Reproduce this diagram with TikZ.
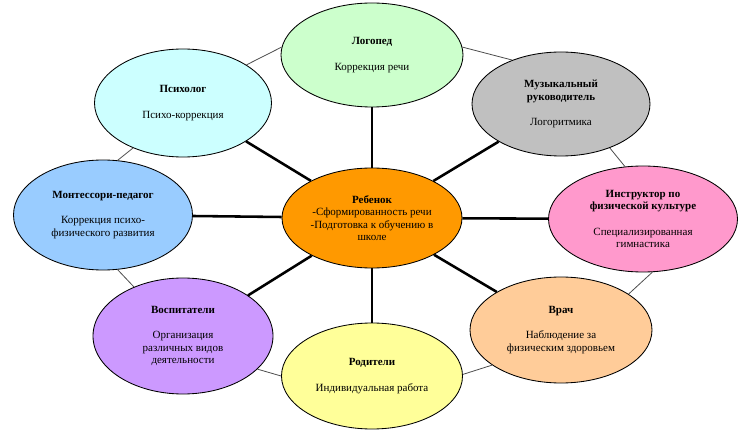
\documentclass[tikz,border=0pt]{standalone}
\usepackage{fontspec}
\setmainfont{Liberation Serif}
\usetikzlibrary{shapes.geometric}
\definecolor{logocol}{HTML}{CCFFCC}
\definecolor{muzcol}{HTML}{C0C0C0}
\definecolor{psycol}{HTML}{CCFFFF}
\definecolor{montcol}{HTML}{99CCFF}
\definecolor{fizcol}{HTML}{FF99CC}
\definecolor{vrachcol}{HTML}{FFCC99}
\definecolor{rodcol}{HTML}{FFFF99}
\definecolor{vospcol}{HTML}{CC99FF}
\definecolor{rebcol}{HTML}{FF9900}

\begin{document}
\begin{tikzpicture}[x=1pt, y=-1pt,
    bubble/.style={ellipse, draw=black, line width=.3mm, inner sep=0pt, align=center,
      font=\fontsize{11}{12.5}\selectfont},
    spoke/.style={line width=.9mm},
    ring/.style={line width=.28mm, black!70}]
	\useasboundingbox (0,0) rectangle (739,438);
	\node[bubble, fill=rebcol, minimum width=180pt, minimum height=100pt] (rebenok) at (372,218)
	  {\textbf{Ребенок}\\-Сформированность речи\\-Подготовка к обучению в\\школе};
	\node[bubble, fill=logocol, minimum width=182pt, minimum height=104pt] (logoped) at (372,55)
	  {\textbf{Логопед}\\[14pt]Коррекция речи};
	\node[bubble, fill=muzcol, minimum width=178pt, minimum height=104pt] (muzruk) at (561,104)
	  {\textbf{Музыкальный}\\\textbf{руководитель}\\[13pt]Логоритмика};
	\node[bubble, fill=psycol, minimum width=177pt, minimum height=108pt] (psiholog) at (183,103)
	  {\textbf{Психолог}\\[14pt]Психо-коррекция};
	\node[bubble, fill=montcol, minimum width=179pt, minimum height=110pt] (montessori) at (103,215)
	  {\textbf{Монтессори-педагог}\\[13pt]Коррекция психо-\\физического развития};
	\node[bubble, fill=fizcol, minimum width=189pt, minimum height=106pt] (instruktor) at (643,219)
	  {\textbf{Инструктор по}\\\textbf{физической культуре}\\[13pt]Специализированная\\гимнастика};
	\node[bubble, fill=vospcol, minimum width=180pt, minimum height=116pt] (vospitateli) at (183,336)
	  {\textbf{Воспитатели}\\[13pt]Организация\\различных видов\\деятельности};
	\node[bubble, fill=rodcol, minimum width=181pt, minimum height=106pt] (roditeli) at (372,376)
	  {\textbf{Родители}\\[14pt]Индивидуальная работа};
	\node[bubble, fill=vrachcol, minimum width=182pt, minimum height=106pt] (vrach) at (561,330)
	  {\textbf{Врач}\\[13pt]Наблюдение за\\физическим здоровьем};
	\foreach \n in {logoped,muzruk,instruktor,vrach,roditeli,vospitateli,montessori,psiholog}
	  \draw[spoke] (rebenok) -- (\n);
	\draw[ring] (psiholog.31) -- (logoped.175);
	\draw[ring] (logoped.5) -- (muzruk.138);
	\draw[ring] (muzruk.-42) -- (instruktor.109);
	\draw[ring] (instruktor.-80) -- (vrach.28);
	\draw[ring] (vrach.207) -- (roditeli.1);
	\draw[ring] (roditeli.180) -- (vospitateli.-24);
	\draw[ring] (vospitateli.135) -- (montessori.-75);
	\draw[ring] (montessori.75) -- (psiholog.222);
\end{tikzpicture}
\end{document}
